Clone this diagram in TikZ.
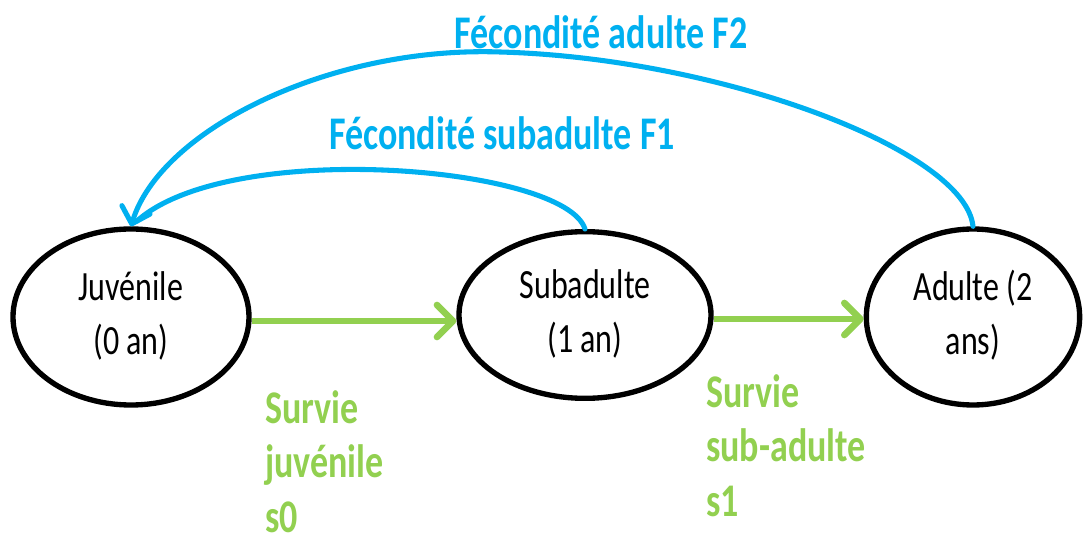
\documentclass[tikz,border=0pt]{standalone}
\usepackage{fontspec}
\usepackage{graphicx}
\setmainfont{Carlito}
\usetikzlibrary{shapes.geometric,arrows.meta}
\definecolor{offblue}{HTML}{00B0F0}
\definecolor{offgreen}{HTML}{92D050}
\newcommand\vstretch[1]{\scalebox{1}[1.3]{#1}}
\tikzset{
  stage/.style={ellipse, draw=black, line width=4pt, inner sep=0pt,
    font=\fontsize{24}{31}\selectfont},
  survival/.style={draw=offgreen, line width=5pt,
    -{Straight Barb[length=12pt,width=24pt,round]}},
  fecundity/.style={draw=offblue, line width=3.8pt, line cap=round},
  fechead/.style={fecundity, -{Straight Barb[length=11pt,width=22pt,round]}},
  bluelabel/.style={text=offblue, font=\fontsize{27}{32}\selectfont\bfseries, inner sep=0pt},
  greenlabel/.style={text=offgreen, font=\fontsize{27}{31.5}\selectfont\bfseries, inner sep=0pt, anchor=west}
}
\begin{document}
\begin{tikzpicture}[x=0.75pt,y=-0.75pt]
\useasboundingbox (0,0) rectangle (1083,545);
% stages
\node[stage, minimum width=177pt, minimum height=132pt] (J) at (131,317)
  {\vstretch{\begin{tabular}{@{}c@{}}Juvénile\\(0 an)\end{tabular}}};
\node[stage, minimum width=189pt, minimum height=125pt] (S) at (585,315)
  {\vstretch{\begin{tabular}{@{}c@{}}Subadulte\\(1 an)\end{tabular}}};
\node[stage, minimum width=160pt, minimum height=132pt] (A) at (973,317)
  {\vstretch{\begin{tabular}{@{}c@{}}Adulte (2\\ans)\end{tabular}}};
% survival arrows
\coordinate (g1) at ([yshift=-3pt]J.east);
\coordinate (g2) at ([yshift=-3pt]S.east);
\draw[survival] (g1) -- (g1 -| S.west);
\draw[survival] (g2) -- (g2 -| A.west);
% fecundity arrows
\coordinate (top2) at (500,52);
\draw[fecundity, shorten >=6pt] (S.north) .. controls (565,166) and (230,138) .. (J.north);
\draw[fechead] (A.north) .. controls (965,150) and (720,58) .. (top2)
  .. controls (330,46) and (160,130) .. (J.north);
% labels
\node[bluelabel] (LF2) at (601,32) {\vstretch{Fécondité adulte F2}};
\node[bluelabel] (LF1) at (502,133) {\vstretch{Fécondité subadulte F1}};
\node[greenlabel] (L0) at (265,467)
  {\vstretch{\begin{tabular}{@{}l@{}}Survie\\juvénile\\s0\end{tabular}}};
\node[greenlabel] (L1) at (706,451)
  {\vstretch{\begin{tabular}{@{}l@{}}Survie\\sub-adulte\\s1\end{tabular}}};
\end{tikzpicture}
\end{document}
